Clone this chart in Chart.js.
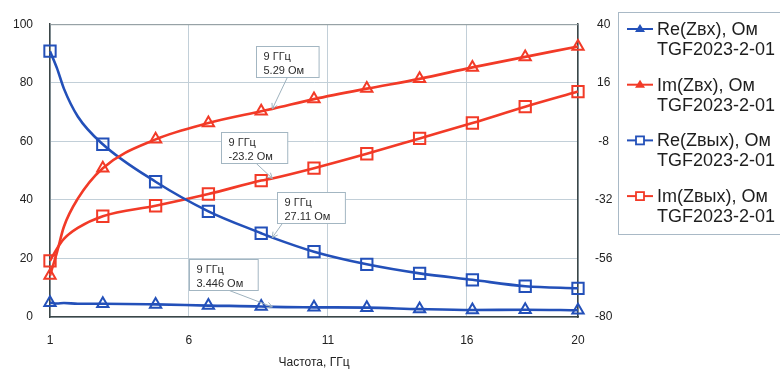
<!DOCTYPE html>
<html>
<head>
<meta charset="utf-8">
<script src="https://cdn.jsdelivr.net/npm/chart.js@4.4.0/dist/chart.umd.min.js"></script>
<style>
  html, body { margin: 0; padding: 0; background: #ffffff; }
  #wrap { width: 780px; height: 374px; position: relative; }
</style>
</head>
<body>
<div id="wrap"><canvas id="c"></canvas></div>
<script>
// Frequency grid, GHz
const freq = [1, 1.25, 1.5, 2, 2.9, 4.8, 6.7, 8.6, 9, 10.5, 12.4, 14.3, 16.2, 18.1, 20];
// Frequencies that carry a marker
const markerFreq = [1, 2.9, 4.8, 6.7, 8.6, 10.5, 12.4, 14.3, 16.2, 18.1, 20];
// Frequency at which the value call-outs are placed
const noteFreq = 9;

// Input / output impedance of TGF2023-2-01, Ohm
const reZin  = [4.9, 4.6, 4.8, 4.5, 4.5, 4.3, 3.9, 3.6, 3.446, 3.3, 3.2, 2.7, 2.4, 2.5, 2.3];
const imZin  = [-63, -53.5, -43, -31.5, -19, -7.2, -0.5, 4.3, 5.29, 9.3, 13.6, 17.6, 22.3, 26.6, 30.9];
const reZout = [90.8, 85, 78, 68.5, 59, 46.2, 36.1, 28.6, 27.11, 22.3, 18, 14.9, 12.7, 10.5, 9.8];
const imZout = [-57, -52, -48, -43.5, -38.7, -34.4, -29.6, -24.1, -23.2, -19, -13.1, -6.8, -0.5, 6.2, 12.4];

// Axis ticks
const xTicks = [1, 6, 11, 16, 20];
const leftTicks = [0, 20, 40, 60, 80, 100];
const rightTicks = [-80, -56, -32, -8, 16, 40];

const seriesNames = ['Re(Zвх), Ом', 'Im(Zвх), Ом', 'Re(Zвых), Ом', 'Im(Zвых), Ом'];
const deviceName = 'TGF2023-2-01';
const xTitle = 'Частота, ГГц';
const freqUnit = 'ГГц';
const valueUnit = 'Ом';

const BLUE = '#2350b9';
const RED = '#f23a27';
const GRID = '#c2cfd8';
const AXIS = '#3b4647';
const FONT = "'Liberation Sans', Arial, sans-serif";

function series(vals) {
  return freq.map((f, i) => ({ x: f, y: vals[i] }));
}
function markerRadius(r) {
  return ctx => markerFreq.includes(freq[ctx.dataIndex]) ? r : 0;
}
function makeDataset(label, vals, color, shape, axis) {
  return {
    label: label,
    data: series(vals),
    yAxisID: axis,
    borderColor: color,
    backgroundColor: 'rgba(0,0,0,0)',
    borderWidth: 2.6,
    pointStyle: shape,
    pointRadius: markerRadius(shape === 'rect' ? 8 : 6.5),
    pointBorderWidth: 2,
    pointBorderColor: color,
    pointBackgroundColor: 'rgba(0,0,0,0)',
    cubicInterpolationMode: 'monotone',
    clip: false
  };
}

// Call-out boxes at noteFreq: box offset from the point and pointer start
const noteLayout = [
  { dx: -83, dy: -48, px: -43 },
  { dx: -16, dy: -63, px: 15 },
  { dx: 5,   dy: -46, px: 10 },
  { dx: -51, dy: -46, px: -16 }
];

const notesPlugin = {
  id: 'notes',
  afterDatasetsDraw(chart) {
    const ctx = chart.ctx;
    const xs = chart.scales.x;
    const idx = freq.indexOf(noteFreq);
    chart.data.datasets.forEach((ds, i) => {
      const v = ds.data[idx].y;
      const ys = chart.scales[ds.yAxisID];
      const ax = xs.getPixelForValue(noteFreq);
      const ay = ys.getPixelForValue(v);
      const lay = noteLayout[i];
      const l1 = noteFreq + ' ' + freqUnit;
      const l2 = v + ' ' + valueUnit;
      ctx.save();
      ctx.font = '11px ' + FONT;
      const w = Math.max(ctx.measureText(l1).width, ctx.measureText(l2).width) + 22;
      const h = 31;
      const bx = Math.round(ax + lay.dx) + 0.5;
      const by = Math.round(ay + lay.dy) + 0.5;
      // pointer with a small open arrowhead
      const sx = ax + lay.px, sy = by + h;
      ctx.strokeStyle = '#9eb2be';
      ctx.lineWidth = 1;
      ctx.beginPath();
      ctx.moveTo(sx, sy);
      ctx.lineTo(ax, ay);
      ctx.stroke();
      const ang = Math.atan2(ay - sy, ax - sx);
      ctx.beginPath();
      ctx.moveTo(ax - 6 * Math.cos(ang - 0.5), ay - 6 * Math.sin(ang - 0.5));
      ctx.lineTo(ax, ay);
      ctx.lineTo(ax - 6 * Math.cos(ang + 0.5), ay - 6 * Math.sin(ang + 0.5));
      ctx.stroke();
      // box
      ctx.fillStyle = '#ffffff';
      ctx.fillRect(bx, by, w, h);
      ctx.strokeStyle = '#a3b6c2';
      ctx.strokeRect(bx, by, w, h);
      ctx.fillStyle = '#2b2b2b';
      ctx.textBaseline = 'middle';
      ctx.textAlign = 'left';
      ctx.fillText(l1, bx + 7, by + 10);
      ctx.fillText(l2, bx + 7, by + 24);
      ctx.restore();
    });
  }
};

const framePlugin = {
  id: 'frame',
  afterDraw(chart) {
    const ctx = chart.ctx;
    const a = chart.chartArea;
    ctx.save();
    ctx.strokeStyle = '#8d989b';
    ctx.lineWidth = 1;
    ctx.beginPath();
    ctx.moveTo(a.left, a.top + 0.5);
    ctx.lineTo(a.right, a.top + 0.5);
    ctx.stroke();
    ctx.restore();
  }
};

const legendPlugin = {
  id: 'sideLegend',
  afterDraw(chart) {
    const ctx = chart.ctx;
    ctx.save();
    ctx.strokeStyle = '#a9b9c6';
    ctx.lineWidth = 1;
    ctx.strokeRect(618.5, 12.5, 200, 222);
    chart.data.datasets.forEach((ds, i) => {
      const y = 30 + i * 55.7;
      ctx.strokeStyle = ds.borderColor;
      ctx.lineWidth = 2;
      ctx.beginPath();
      ctx.moveTo(627, y - 1);
      ctx.lineTo(653, y - 1);
      ctx.stroke();
      if (ds.pointStyle === 'triangle') {
        ctx.fillStyle = ds.borderColor;
        ctx.beginPath();
        ctx.moveTo(640, y - 6);
        ctx.lineTo(645, y + 2);
        ctx.lineTo(635, y + 2);
        ctx.closePath();
        ctx.fill();
      } else {
        ctx.lineWidth = 1.8;
        ctx.fillStyle = '#ffffff';
        ctx.fillRect(636, y - 5, 8, 8);
        ctx.strokeRect(636, y - 5, 8, 8);
      }
      ctx.fillStyle = '#1e1e1e';
      ctx.font = '18px ' + FONT;
      ctx.textBaseline = 'middle';
      ctx.textAlign = 'left';
      ctx.fillText(ds.label, 657, y);
      ctx.fillText(deviceName, 657, y + 20);
    });
    ctx.restore();
  }
};

new Chart(document.getElementById('c'), {
  type: 'line',
  data: {
    datasets: [
      makeDataset(seriesNames[0], reZin, BLUE, 'triangle', 'yL'),
      makeDataset(seriesNames[1], imZin, RED, 'triangle', 'yR'),
      makeDataset(seriesNames[2], reZout, BLUE, 'rect', 'yL'),
      makeDataset(seriesNames[3], imZout, RED, 'rect', 'yR')
    ]
  },
  options: {
    responsive: true,
    maintainAspectRatio: false,
    animation: false,
    events: [],
    layout: { padding: { top: 12, right: 0, bottom: 0, left: 0 } },
    plugins: { legend: { display: false }, tooltip: { enabled: false } },
    scales: {
      x: {
        type: 'linear',
        min: 1,
        max: 20,
        afterBuildTicks(s) { s.ticks = xTicks.map(v => ({ value: v })); },
        afterFit(s) { s.height = 57; },
        grid: { color: GRID, lineWidth: 1, drawTicks: false },
        border: { display: true, color: AXIS, width: 1.5 },
        ticks: { padding: 16, color: '#222', font: { family: FONT, size: 12 }, maxRotation: 0 },
        title: { display: true, text: xTitle, color: '#222', font: { family: FONT, size: 12 }, padding: { top: 0, bottom: 4 } }
      },
      yL: {
        type: 'linear',
        position: 'left',
        min: 0,
        max: 100,
        afterBuildTicks(s) { s.ticks = leftTicks.map(v => ({ value: v })); },
        afterFit(s) { s.width = 50; },
        grid: { color: GRID, lineWidth: 1, drawTicks: false },
        border: { display: true, color: AXIS, width: 1.5 },
        ticks: { padding: 17, color: '#222', font: { family: FONT, size: 12 } }
      },
      yR: {
        type: 'linear',
        position: 'right',
        min: -80,
        max: 40,
        afterBuildTicks(s) { s.ticks = rightTicks.map(v => ({ value: v })); },
        afterFit(s) { s.width = 202; },
        grid: { display: false, drawTicks: false },
        border: { display: true, color: AXIS, width: 1.5 },
        ticks: { padding: 17, crossAlign: 'center', color: '#222', font: { family: FONT, size: 12 } }
      }
    }
  },
  plugins: [framePlugin, notesPlugin, legendPlugin]
});
</script>
</body>
</html>
